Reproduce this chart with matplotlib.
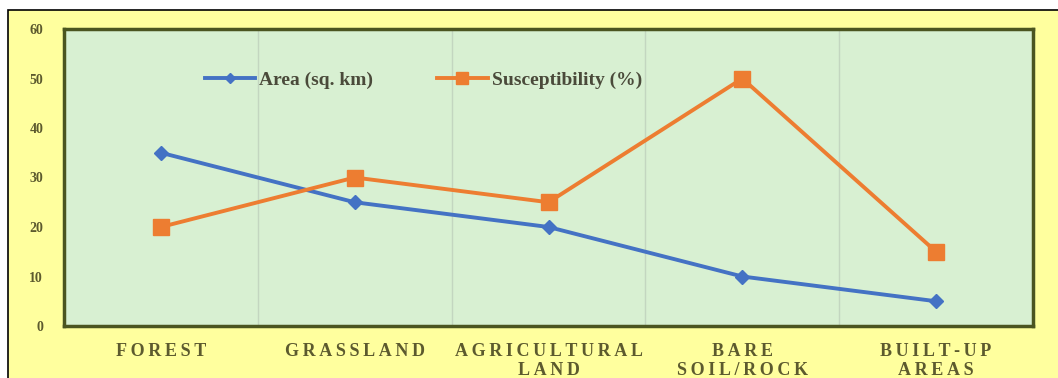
import matplotlib.pyplot as plt
from matplotlib.patches import Rectangle

categories = ["FOREST", "GRASSLAND", "AGRICULTURAL\nLAND", "BARE\nSOIL/ROCK", "BUILT-UP\nAREAS"]
area_sq_km = [35, 25, 20, 10, 5]
susceptibility_pct = [20, 30, 25, 50, 15]
y_ticks = [0, 10, 20, 30, 40, 50, 60]

W, H = 1058, 378
fig = plt.figure(figsize=(W / 100, H / 100), dpi=100, facecolor="white")

# yellow panel; only its top and left edges fall inside the figure
fig.patches.append(Rectangle((8 / W, -0.05), 1.0, 1 - 10 / H + 0.05,
                             transform=fig.transFigure, facecolor="#FFFF9E",
                             edgecolor="black", linewidth=1.2, zorder=-10))

ax = fig.add_axes([64 / W, 1 - 326 / H, (1033 - 64) / W, (326 - 29) / H])
ax.set_facecolor("#D8F0D2")

x = list(range(len(categories)))
ax.plot(x, area_sq_km, color="#4472C4", lw=2.8, marker="D", ms=7,
        label="Area (sq. km)", zorder=3)
ax.plot(x, susceptibility_pct, color="#ED7D31", lw=2.8, marker="s", ms=11,
        label="Susceptibility (%)", zorder=3)


def spaced(text):
    # widen the letter spacing of the category labels with thin spaces
    return "\n".join("\u2009".join(line) for line in text.split("\n"))


serif = ["Liberation Serif", "DejaVu Serif"]
ax.set_xlim(-0.5, len(categories) - 0.5)
ax.set_ylim(0, 60)
ax.set_yticks(y_ticks)
ax.set_xticks(x)
ax.set_xticklabels([spaced(c) for c in categories], fontfamily=serif, fontweight="bold",
                   fontsize=13, color="#5C5A2E", linespacing=1.2)
ax.set_yticklabels([str(v) for v in y_ticks], fontfamily=serif,
                   fontweight="bold", fontsize=10, color="#5C5A2E")
ax.tick_params(axis="both", length=0)
ax.tick_params(axis="x", pad=12)
ax.tick_params(axis="y", pad=15)

for b in [0.5, 1.5, 2.5, 3.5]:
    ax.axvline(b, color="#C3D6C0", lw=1, zorder=1)

for s in ax.spines.values():
    s.set_color("#4B5520")
    s.set_linewidth(2.5)

ax.legend(loc="center left", bbox_to_anchor=(0.135, 0.828), ncol=2, frameon=False,
          borderpad=0, columnspacing=3.3, handlelength=2.6, handletextpad=0.2,
          markerscale=0.75,
          prop={"family": serif, "weight": "bold", "size": 14},
          labelcolor="#4A4A3A")

fig.savefig("out.png", dpi=100, facecolor=fig.get_facecolor())
